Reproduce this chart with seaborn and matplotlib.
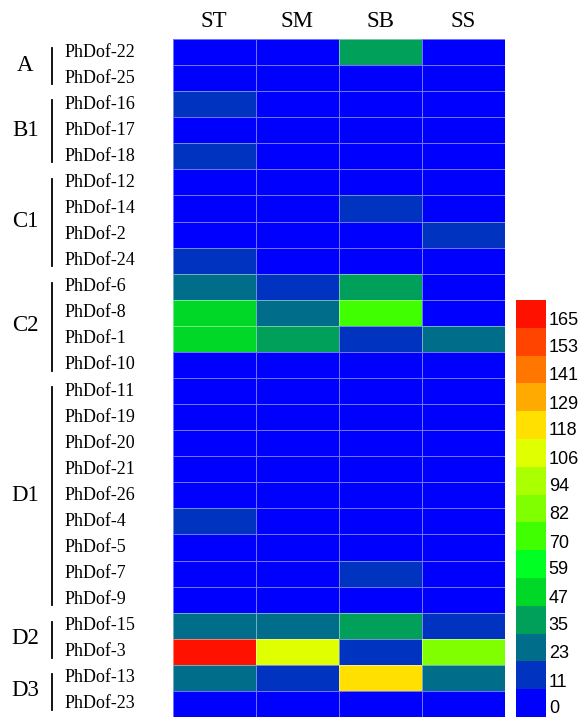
import numpy as np
import pandas as pd
import matplotlib
matplotlib.use("Agg")
import matplotlib.pyplot as plt
import matplotlib.transforms as mtransforms
from matplotlib.colors import ListedColormap, BoundaryNorm
import seaborn as sns

# tissues
columns = ["ST", "SM", "SB", "SS"]

genes = ["PhDof-22", "PhDof-25",
         "PhDof-16", "PhDof-17", "PhDof-18",
         "PhDof-12", "PhDof-14", "PhDof-2", "PhDof-24",
         "PhDof-6", "PhDof-8", "PhDof-1", "PhDof-10",
         "PhDof-11", "PhDof-19", "PhDof-20", "PhDof-21", "PhDof-26",
         "PhDof-4", "PhDof-5", "PhDof-7", "PhDof-9",
         "PhDof-15", "PhDof-3",
         "PhDof-13", "PhDof-23"]

groups = ["A", "B1", "C1", "C2", "D1", "D2", "D3"]
group_sizes = [2, 3, 4, 4, 9, 2, 2]

# expression values
st = [0, 0, 11, 0, 11, 0, 0, 0, 11, 23, 47, 47, 0,
      0, 0, 0, 0, 0, 11, 0, 0, 0, 23, 165, 23, 0]
sm = [0, 0, 0, 0, 0, 0, 0, 0, 0, 11, 23, 35, 0,
      0, 0, 0, 0, 0, 0, 0, 0, 0, 23, 106, 11, 0]
sb = [35, 0, 0, 0, 0, 0, 11, 0, 0, 35, 70, 11, 0,
      0, 0, 0, 0, 0, 0, 0, 11, 0, 35, 11, 118, 0]
ss = [0, 0, 0, 0, 0, 0, 0, 11, 0, 0, 0, 23, 0,
      0, 0, 0, 0, 0, 0, 0, 0, 0, 11, 82, 23, 0]

levels = [0, 11, 23, 35, 47, 59, 70, 82, 94, 106, 118, 129, 141, 153, 165]
level_colors = ["#0000FF", "#0033BF", "#006E8A", "#009F5A", "#00D828",
                "#00FF22", "#40FF00", "#80FF00", "#AAFF00", "#E0FF00",
                "#FFE000", "#FFAA00", "#FF7700", "#FF4400", "#FF1100"]

df = pd.DataFrame({"ST": st, "SM": sm, "SB": sb, "SS": ss}, index=genes)[columns]

cmap = ListedColormap(level_colors)
bounds = [levels[0] - 6] + [(a + b) / 2 for a, b in zip(levels[:-1], levels[1:])] + [levels[-1] + 6]
norm = BoundaryNorm(bounds, cmap.N)

W, H = 581, 718
fig = plt.figure(figsize=(W / 100, H / 100), dpi=100)
ax = fig.add_axes([172.7 / W, 1 - 717 / H, 332.3 / W, 678 / H])
cax = fig.add_axes([516 / W, 1 - 717 / H, 30 / W, 417 / H])

sns.heatmap(df, cmap=cmap, norm=norm, ax=ax, cbar_ax=cax,
            linewidths=0.6, linecolor=(1, 1, 1, 0.45),
            cbar_kws={"ticks": levels})

serif = ["Liberation Serif", "DejaVu Serif"]

# column labels on top
ax.xaxis.tick_top()
ax.set_xticklabels(columns, rotation=0, fontsize=16.5, family=serif)
ax.tick_params(axis="x", length=0, pad=5)

# gene labels, left aligned
ax.set_yticklabels(genes, rotation=0, fontsize=13, family=serif, ha="left")
ax.tick_params(axis="y", length=0, pad=78)
ax.set_xlabel("")
ax.set_ylabel("")

# group brackets
tr = ax.get_yaxis_transform()
start = 0
for g, n in zip(groups, group_sizes):
    end = start + n
    ax.plot([-0.363, -0.363], [start + 0.35, end - 0.28], color="black",
            lw=1.3, transform=tr, clip_on=False)
    ax.text(-0.444, (start + end) / 2, g, transform=tr, ha="center", va="center",
            fontsize=16.5, family=serif)
    start = end

# colorbar
cbar = ax.collections[0].colorbar
cbar.outline.set_visible(False)
cbar.minorticks_off()
cbar.ax.tick_params(which="both", length=0, width=0, pad=2)
cbar.ax.set_yticklabels([str(v) for v in levels], fontsize=13, family="Liberation Sans")
offset = mtransforms.ScaledTranslation(0, -3 / 72, fig.dpi_scale_trans)
for lab in cbar.ax.get_yticklabels():
    lab.set_transform(lab.get_transform() + offset)

fig.savefig("out.png", dpi=100)
